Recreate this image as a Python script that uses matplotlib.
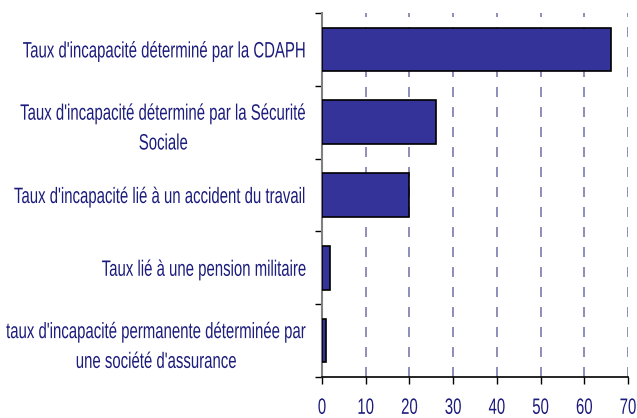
import matplotlib
matplotlib.use("Agg")
import matplotlib.pyplot as plt
from matplotlib.patheffects import AbstractPathEffect
from matplotlib.transforms import Affine2D
import numpy as np

categories = [
    "Taux d'incapacité déterminé par la CDAPH",
    "Taux d'incapacité déterminé par la Sécurité\nSociale",
    "Taux d'incapacité lié à un accident du travail",
    "Taux lié à une pension militaire",
    "taux d'incapacité permanente déterminée par\nune société d'assurance",
]
values = [66.1, 26.1, 20.0, 1.8, 0.9]
xticks = [0, 10, 20, 30, 40, 50, 60, 70]

plt.rcParams['font.family'] = ['Liberation Sans', 'DejaVu Sans']


class XScale(AbstractPathEffect):
    """Compress text horizontally about a fixed display x."""
    def __init__(self, sx, x0):
        super().__init__()
        self.sx = sx
        self.x0 = x0

    def draw_path(self, renderer, gc, tpath, affine, rgbFace=None):
        t = affine + Affine2D().translate(-self.x0, 0).scale(self.sx, 1).translate(self.x0, 0)
        renderer.draw_path(gc, tpath, t, rgbFace)


navy = "#1c1c7c"
fig = plt.figure(figsize=(6.37, 4.18), dpi=100)
ax = fig.add_axes([322/637, 1-377/418, (628-322)/637, (377-13)/418])

y = np.arange(len(categories))
ax.barh(y, values, height=0.6, color="#333399", edgecolor="black", linewidth=1.2, zorder=3)
ax.set_ylim(len(categories)-0.5, -0.5)
ax.set_xlim(0, 70)
ax.set_xticks(xticks)
ax.set_xticklabels([str(t) for t in xticks], color=navy, fontsize=16)
ax.set_yticks(y)
ax.set_yticklabels(categories, color=navy, fontsize=16, multialignment="center", linespacing=1.55)
ax.tick_params(axis='y', length=0, pad=11)
ax.set_yticks(np.arange(-0.5, len(categories), 1), minor=True)
ax.tick_params(axis='y', which='minor', length=5, width=1, color="black", direction='out')
ax.tick_params(axis='x', length=5, width=1, color="black", direction='out', pad=10)

for xv in xticks[1:]:
    ax.axvline(xv, color="#7a7aaa", linestyle=(0, (6, 6)), linewidth=1.2, zorder=1)

for s in ["top", "right"]:
    ax.spines[s].set_visible(False)
ax.spines["left"].set_color("#808080")
ax.spines["left"].set_linewidth(1.5)
ax.spines["bottom"].set_color("black")
ax.spines["bottom"].set_linewidth(1.2)

fig.canvas.draw()
ylabels = ax.get_yticklabels()
bb0 = ylabels[0].get_window_extent()
sx = 284.0 / bb0.width
for lab in ylabels:
    bb = lab.get_window_extent()
    lab.set_path_effects([XScale(sx, bb.x1)])
for lab in ax.get_xticklabels():
    bb = lab.get_window_extent()
    lab.set_path_effects([XScale(sx, 0.5 * (bb.x0 + bb.x1))])

fig.savefig("out.png", dpi=100)
